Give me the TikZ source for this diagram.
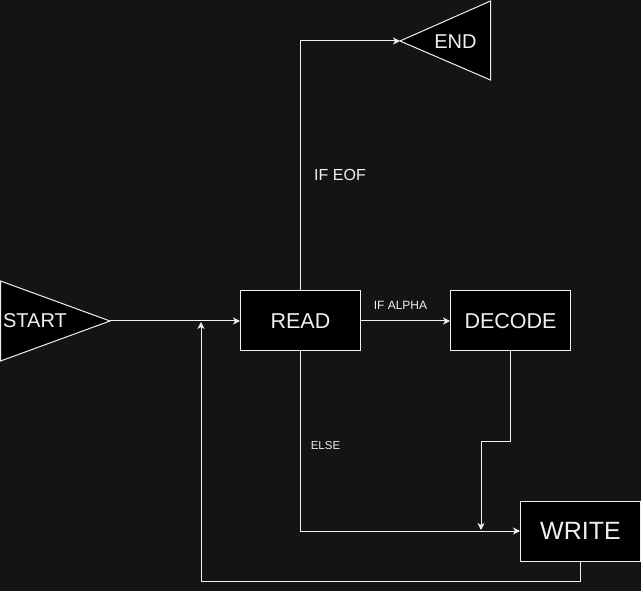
\documentclass[tikz,border=0pt]{standalone}
\usepackage{fontspec}
\setmainfont{Liberation Sans}
\usepackage{xcolor}
\usetikzlibrary{positioning, arrows.meta}

\definecolor{bgdark}{RGB}{20,20,20}
\definecolor{inkwhite}{RGB}{240,240,240}

\tikzset{
  procbox/.style={draw=inkwhite, fill=black, line width=1pt, minimum width=120pt, minimum height=60pt, inner sep=0pt, text=inkwhite, font=\fontsize{21.5}{24}\selectfont},
  termtri/.style={draw=inkwhite, fill=black, line width=1pt},
  termtext/.style={text=inkwhite, inner sep=0pt, font=\fontsize{20}{22}\selectfont},
  flow/.style={draw=inkwhite, line width=1pt, -{Stealth[length=7pt, width=7pt, inset=2pt]}},
  cond/.style={text=inkwhite, inner sep=0pt},
}

\begin{document}
\begin{tikzpicture}[x=1pt, y=-1pt]
        \fill[bgdark] (0,0) rectangle (641,591);
        \useasboundingbox (0,0) rectangle (641,591);

        % Start triangle (points right)
        \coordinate (stop) at (0.5,281);
        \coordinate (sbot) at (0.5,361);
        \coordinate (start) at (110,321);
        \filldraw[termtri] (stop)--(start)--(sbot)--cycle;
        \node[termtext] (starttxt) at (35,321) {START};

        % End triangle (points left)
        \coordinate (etop) at (490.5,1);
        \coordinate (ebot) at (490.5,80);
        \coordinate (end) at (400,41);
        \filldraw[termtri] (etop)--(end)--(ebot)--cycle;
        \node[termtext] (endtxt) at (455.5,42) {END};

        % Boxes
        \node[procbox] (read) at (300.5,321) {READ};
        \node[procbox] (decode) at (510.5,321) {DECODE};
        \node[procbox, font=\fontsize{25}{28}\selectfont] (write) at (580.5,531) {WRITE};

        % Bends
        \coordinate (dbend) at (481,441);
        \coordinate (merge) at (481,530);
        \coordinate (loop) at (201,581);
        \coordinate (rejoin) at (201,322);

        % Connectors
        \draw[flow] (start) -- (read);
        \draw[flow] (read.north) |- (end);
        \draw[flow] (read) -- (decode);
        \draw[flow] (read.south) |- (write);
        \draw[flow] (decode.south) |- (dbend) -- (merge);
        \draw[flow] (write.south) |- (loop) -- (rejoin);

        % Conditions
        \node[cond, font=\fontsize{16}{18}\selectfont] (ifeof) at (340,175) {IF EOF};
        \node[cond, font=\fontsize{12}{14}\selectfont] (ifalpha) at (400.5,305.5) {IF ALPHA};
        \node[cond, font=\fontsize{11.5}{13}\selectfont] (else) at (325.5,446) {ELSE};
\end{tikzpicture}
\end{document}
